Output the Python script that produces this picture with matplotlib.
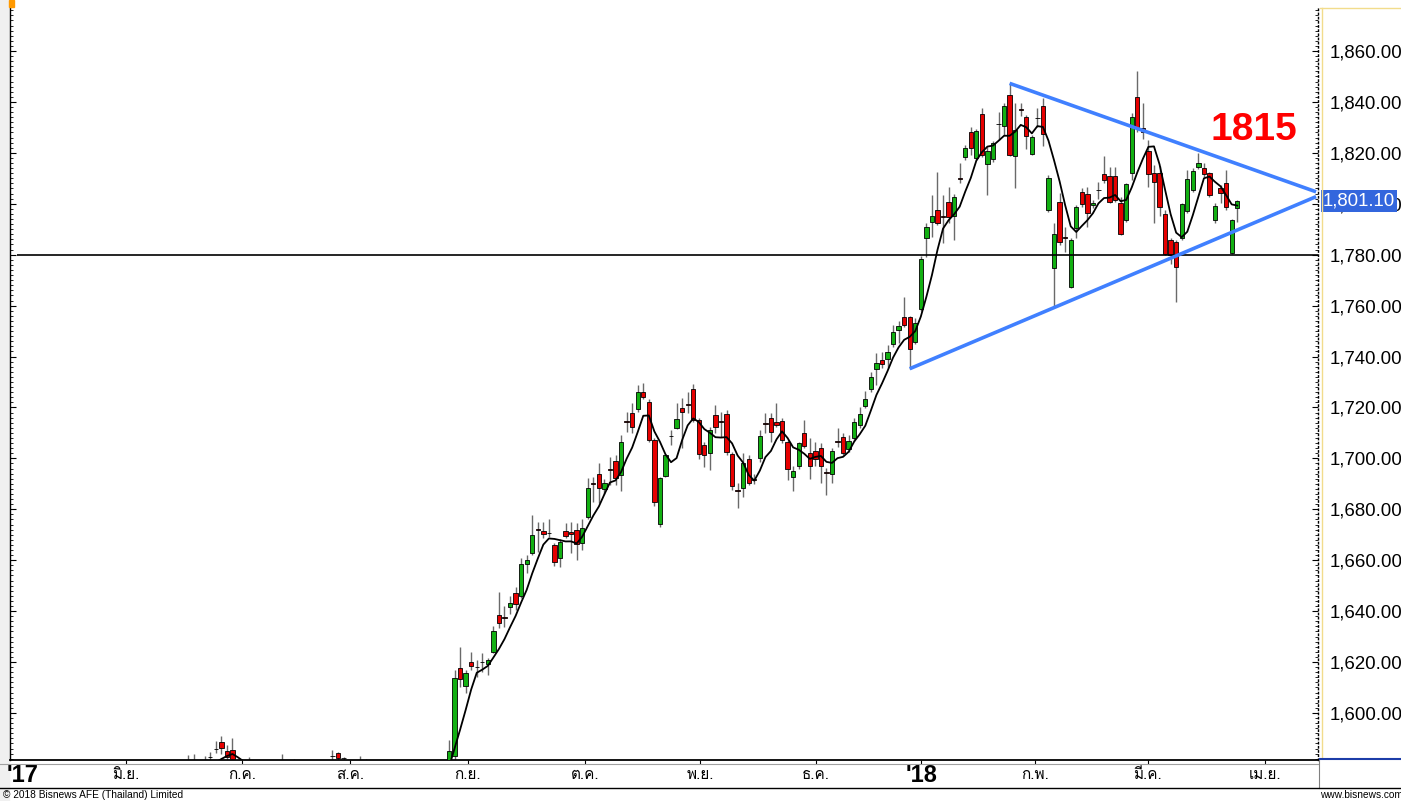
import matplotlib
matplotlib.use("Agg")
import matplotlib.pyplot as plt
import matplotlib.transforms as mtransforms
import numpy as np
import pandas as pd
from matplotlib import font_manager
from matplotlib.ft2font import FT2Font
from matplotlib.lines import Line2D
from matplotlib.ticker import MultipleLocator, FuncFormatter

# daily candles, trading-day index starting at FIRST_INDEX (0 = first candle of the Sep rally)
FIRST_INDEX = -48

OPEN = [
    1575, 1576, 1577, 1579, 1577, 1582.5, 1585.9, 1588.7, 1585.2, 1585.5,
    1580, 1576, 1578, 1577, 1575, 1572, 1574, 1576, 1577, 1579,
    1575, 1578, 1573, 1575, 1577, 1576, 1578, 1583.1, 1584.2, 1582.3,
    1580, 1577, 1574, 1578, 1576, 1573, 1575, 1572, 1570, 1572,
    1575, 1573, 1576, 1578, 1575, 1577, 1576, 1577,
    1578, 1583, 1617.5, 1610.6, 1620, 1618.2, 1620, 1619.2, 1624, 1638.5,
    1637.6, 1641.5, 1647, 1646.1, 1658.5, 1663, 1672.2, 1671.5, 1670.7, 1665.8,
    1660.8, 1671.5, 1671, 1671.9, 1666.6, 1677.1, 1690.3, 1693.7, 1688.1, 1695.8,
    1699, 1693.5, 1714.5, 1718, 1719.3, 1726, 1722.3, 1707.2, 1674.2, 1693,
    1708.9, 1712.1, 1719.9, 1721.3, 1727.2, 1715, 1705.2, 1702.2, 1717, 1714.5,
    1717.3, 1701.7, 1687.4, 1688.2, 1699.6, 1692, 1700, 1713.8, 1716, 1714.4,
    1714.8, 1706.6, 1692.8, 1696.8, 1709.9, 1702, 1702.9, 1704, 1694.5, 1693.7,
    1706.7, 1708.5, 1703.6, 1707.9, 1713.1, 1720.6, 1727.1, 1735, 1738.6, 1738.9,
    1745, 1750.4, 1755.6, 1755.4, 1745.8, 1758.6, 1786.4, 1792.7, 1797.5, 1795.1,
    1800.8, 1795, 1810.1, 1818.5, 1828.3, 1818, 1835.3, 1815.6, 1817.5, 1831.4,
    1830.5, 1842.7, 1818.8, 1837.2, 1834.2, 1819.5, 1833.7, 1838.5, 1797.5, 1774.7,
    1800.8, 1786.9, 1767.4, 1790.4, 1804.7, 1803.7, 1799.5, 1805.5, 1811.7, 1811,
    1811, 1800.2, 1793.6, 1812, 1841.8, 1829.6, 1820.9, 1812, 1812, 1796,
    1785.8, 1785.1, 1786.4, 1797.3, 1805.4, 1814.6, 1813.9, 1812.2, 1793.6, 1806.3,
    1808.3, 1780.8, 1798.2,
]
HIGH = [
    1579, 1583.5, 1583.8, 1581, 1583, 1584.8, 1589, 1591, 1587.4, 1590,
    1581, 1580, 1582.6, 1580, 1578, 1576, 1578, 1580, 1583.9, 1581,
    1582, 1580, 1577, 1579, 1580, 1579, 1581, 1585.5, 1584.8, 1582.6,
    1581, 1580, 1583.2, 1582, 1579, 1577, 1578, 1576, 1574, 1577,
    1578, 1577, 1580, 1580, 1579, 1580, 1580, 1580.5,
    1589.4, 1617, 1626, 1617, 1624, 1620.8, 1623.4, 1621.7, 1634.2, 1647.3,
    1642, 1645.9, 1649.4, 1661, 1662, 1677.8, 1674.8, 1674.8, 1676, 1666.6,
    1668.2, 1674.5, 1674.8, 1674.5, 1676, 1692.2, 1692.6, 1698, 1692, 1700.7,
    1701.3, 1709.2, 1718.3, 1721.6, 1728.8, 1729.5, 1723.2, 1707.9, 1692.8, 1701.8,
    1711, 1721.6, 1723.6, 1726.2, 1729.2, 1715.7, 1706.6, 1712.4, 1720.8, 1718.3,
    1719, 1702.3, 1690.2, 1702, 1701.3, 1694, 1711, 1718, 1718, 1721.9,
    1716, 1707.2, 1696.8, 1706.6, 1715, 1707.9, 1706.6, 1706.2, 1696.1, 1704,
    1711.8, 1710, 1709, 1716, 1720.3, 1726.5, 1734, 1741.3, 1741.6, 1744.6,
    1752.4, 1754, 1763.3, 1756, 1755.2, 1779.5, 1792.3, 1803.4, 1812.6, 1803.4,
    1806.5, 1804, 1816.1, 1823.1, 1830.3, 1829.5, 1837.5, 1822.2, 1824.5, 1836.2,
    1839.5, 1847.3, 1839.7, 1839.5, 1834.9, 1827, 1837.5, 1841.4, 1811.3, 1792.3,
    1804.3, 1791, 1786.4, 1799.5, 1806.3, 1806.7, 1801.5, 1808.7, 1818.8, 1814.6,
    1814.3, 1802.8, 1808.3, 1835.5, 1852.1, 1839.7, 1825, 1815.2, 1814.8, 1797.5,
    1786.4, 1785.8, 1800.4, 1813.3, 1813.9, 1819.8, 1816.1, 1812.6, 1800.2, 1807.4,
    1813.3, 1793.9, 1801.5,
]
LOW = [
    1571, 1574, 1575, 1575, 1574, 1579, 1584.2, 1584, 1580, 1579,
    1574, 1572, 1575, 1573, 1570, 1568, 1571, 1573, 1575, 1574,
    1572, 1572, 1569, 1572, 1573, 1572, 1575, 1580, 1579, 1578,
    1575, 1573, 1572, 1574, 1571, 1569, 1571, 1567, 1566, 1569,
    1571, 1570, 1573, 1574, 1572, 1573, 1574, 1574,
    1575, 1580, 1610.3, 1607.7, 1617, 1614.3, 1616.2, 1614.9, 1623.4, 1633.3,
    1633.9, 1638.9, 1640.4, 1645, 1654.8, 1662, 1663.4, 1668.6, 1669, 1657.7,
    1657.5, 1668.6, 1663, 1660, 1664, 1676, 1683, 1682.4, 1686, 1689.6,
    1689.6, 1687, 1710.5, 1709.9, 1718.3, 1723.2, 1706.6, 1681.1, 1673.2, 1692.5,
    1705.3, 1711.4, 1704, 1717.7, 1714.4, 1699.8, 1696.5, 1695.4, 1709.9, 1708.5,
    1701.5, 1687.5, 1680.4, 1684.7, 1689.5, 1690, 1698.7, 1710, 1706.6, 1712.4,
    1706, 1691.5, 1687.3, 1695.8, 1704, 1691.8, 1697, 1690.2, 1685.6, 1690.5,
    1704.3, 1701.5, 1702.5, 1707, 1712, 1719.8, 1726, 1728.8, 1735.5, 1735.3,
    1743.9, 1745.2, 1751.7, 1735.2, 1745, 1758, 1779.2, 1787, 1791.7, 1784.7,
    1792.3, 1785.8, 1808.3, 1817.2, 1819.2, 1817.2, 1818.5, 1803.4, 1816.6, 1825,
    1827, 1818.8, 1806, 1834.5, 1821.4, 1819, 1830.3, 1822.7, 1796.9, 1759.6,
    1783.8, 1781.2, 1766.8, 1786.4, 1798.9, 1791, 1798.2, 1801.8, 1808.3, 1800.2,
    1800.8, 1787.7, 1793, 1809.3, 1828.3, 1825.3, 1806.7, 1792.3, 1795, 1780,
    1776.3, 1761.5, 1785.8, 1796.3, 1804.7, 1813.5, 1810.4, 1802.8, 1792.6, 1800.2,
    1797.5, 1780.3, 1793,
]
CLOSE = [
    1576, 1577, 1579, 1577, 1578, 1582.7, 1585.7, 1586.1, 1582.8, 1582,
    1576, 1578, 1577, 1575, 1572, 1574, 1576, 1577, 1579, 1575,
    1578, 1573, 1575, 1577, 1576, 1578, 1580, 1582.9, 1582.2, 1582.1,
    1577, 1574, 1578, 1576, 1573, 1575, 1572, 1570, 1572, 1575,
    1573, 1576, 1578, 1575, 1577, 1576, 1577, 1578,
    1585.2, 1613.6, 1613.2, 1615.6, 1618.4, 1618, 1619.8, 1620.6, 1632, 1635.2,
    1637.4, 1643, 1642.8, 1658.5, 1660, 1669.8, 1672, 1670.3, 1670.5, 1659.1,
    1667.3, 1669.6, 1670.4, 1666.4, 1672.5, 1688.2, 1690.1, 1688.2, 1690.5, 1695.6,
    1692.2, 1706.6, 1714.3, 1712.5, 1726, 1724.2, 1707.2, 1683, 1692.2, 1701.3,
    1708.7, 1715.3, 1718.3, 1721.1, 1715, 1701.7, 1701.3, 1711.1, 1712.4, 1714.3,
    1702.6, 1689, 1687.2, 1698.3, 1690.2, 1691.4, 1708.8, 1713.6, 1710.5, 1712.9,
    1707.2, 1695.7, 1695.2, 1705.9, 1705, 1697.1, 1699.6, 1697.1, 1694.3, 1702.9,
    1706.5, 1702.2, 1707, 1714.4, 1717.3, 1723.2, 1731.9, 1737.6, 1736.9, 1741.7,
    1749.8, 1752, 1752.4, 1742.8, 1753, 1778.2, 1790.8, 1795, 1792.3, 1794.9,
    1794.7, 1802.5, 1809.9, 1821.8, 1821.8, 1828.6, 1819.2, 1820.9, 1823.8, 1831.2,
    1838.5, 1819.2, 1829, 1837, 1826.6, 1826.4, 1833.5, 1827.4, 1810, 1788.1,
    1785.1, 1786.7, 1785.8, 1798.9, 1799.9, 1796.3, 1800.4, 1805.3, 1809.3, 1800.8,
    1801.5, 1788.1, 1807.8, 1834, 1830.3, 1828, 1811.7, 1808.7, 1798.9, 1780.3,
    1780, 1775.3, 1799.9, 1809.6, 1812.9, 1815.9, 1811.7, 1803.4, 1799.1, 1804.1,
    1798.6, 1793.6, 1801.1,
]

MA_DAYS = 5

MONTH_LABELS = ["'17", "มิ.ย.", "ก.ค.", "ส.ค.", "ก.ย.", "ต.ค.", "พ.ย.",
                "ธ.ค.", "'18", "ก.พ.", "มี.ค.", "เม.ย."]
MONTH_POS = [-76.8, -58.2, -37.3, -17.8, 3.4, 24.5, 45.2, 66.1, 85.1, 105.5, 125.9, 147.0]

SUPPORT_LEVEL = 1780
SUPPORT_START = -77.8
UPPER_TREND = ([101, 156.2], [1847.3, 1804.7])
LOWER_TREND = ([83, 156.2], [1735.2, 1802.8])
TARGET = "1815"
TARGET_POS = (145.0, 1825.0)

XLIM = (-79.08, 156.55)
YLIM = (1581.5, 1876.9)

W, H = 1401, 801
GREEN = "#12b012"
RED = "#e60000"
BLUE = "#4080ff"


def thai_family():
    for f in font_manager.fontManager.ttflist:
        try:
            if 0x0E01 in FT2Font(f.fname).get_charmap():
                return f.name
        except Exception:
            continue
    return "DejaVu Sans"


plt.rcParams["font.family"] = ["Liberation Sans", "DejaVu Sans"]
THAI = thai_family()
NARROW = ["Liberation Sans Narrow", "Liberation Sans", "DejaVu Sans"]

fig = plt.figure(figsize=(W / 100, H / 100), dpi=100)
fig.patch.set_facecolor("white")


def fx(px):
    return px / W


def fy(py):
    return 1 - py / H


def fig_line(x0, y0, x1, y1, **kw):
    fig.add_artist(Line2D([fx(x0), fx(x1)], [fy(y0), fy(y1)], transform=fig.transFigure, **kw))


# grey strip at far left and orange marker
fig.add_artist(plt.Rectangle((0, fy(801)), fx(9), 1, transform=fig.transFigure,
                             color="#f0f0f0", zorder=0))
fig.add_artist(plt.Rectangle((fx(9), fy(7)), fx(5), 7 / H, transform=fig.transFigure,
                             color="#ff9900", zorder=1))

ax = fig.add_axes([fx(10), fy(760), fx(1318) - fx(10), fy(8) - fy(760)])
ax.set_xlim(*XLIM)
ax.set_ylim(*YLIM)

df = pd.DataFrame({"open": OPEN, "high": HIGH, "low": LOW, "close": CLOSE})
df["x"] = np.arange(len(df)) + FIRST_INDEX
df["ma"] = df["close"].rolling(MA_DAYS).mean()

body_low = df[["open", "close"]].min(axis=1)
body_h = (df["close"] - df["open"]).abs().clip(lower=0.2)
colors = np.where(df["close"] >= df["open"], GREEN, RED)

ax.vlines(df["x"], df["low"], df["high"], color="#6a6a6a", lw=1.0, zorder=2)
ax.bar(df["x"], body_h, width=0.78, bottom=body_low, color=colors,
       edgecolor="black", linewidth=0.6, zorder=3)
ax.plot(df["x"], df["ma"], color="black", lw=1.3, zorder=4)

ax.hlines(SUPPORT_LEVEL, SUPPORT_START, XLIM[1], color="black", lw=1.2, zorder=4)
ax.plot(*UPPER_TREND, color=BLUE, lw=2.6, zorder=5, solid_capstyle="butt")
ax.plot(*LOWER_TREND, color=BLUE, lw=2.6, zorder=5, solid_capstyle="butt")

ax.text(*TARGET_POS, TARGET, color="#ff0000", fontsize=28, fontweight="bold",
        family=NARROW, ha="center", va="baseline", zorder=6)

# y axis on the right
ax.yaxis.set_major_locator(MultipleLocator(20))
ax.yaxis.set_minor_locator(MultipleLocator(2))
ax.yaxis.set_major_formatter(FuncFormatter(lambda v, p: f"{v:,.2f}"))
ax.tick_params(axis="y", which="both", direction="in", left=True, right=True,
               labelleft=False, labelright=True, colors="black")
ax.tick_params(axis="y", which="major", length=4, width=0.8, pad=8.6, labelsize=13.4)
ax.tick_params(axis="y", which="minor", length=2, width=0.6)

ax.set_xticks(MONTH_POS[1:])
ax.set_xticklabels([])
ax.tick_params(axis="x", which="both", direction="out", length=3, width=0.8, labelbottom=False)

ax.spines["top"].set_visible(False)
ax.spines["right"].set_linestyle((0, (1, 2)))
ax.spines["right"].set_linewidth(1.0)
ax.spines["left"].set_linewidth(1.0)
ax.spines["bottom"].set_linewidth(1.3)

# last price tag (sits over the 1,800.00 label, as in the terminal)
last = df["close"].iloc[-1]
tag_tr = mtransforms.blended_transform_factory(ax.transAxes, ax.transData)
ax.text((1323 - 10) / 1308, last, f"{last:,.2f}", transform=tag_tr, color="white",
        fontsize=13.4, ha="left", va="center", clip_on=False, zorder=10,
        bbox=dict(boxstyle="square,pad=0.12", fc="#3366dd", ec="none"))

# month labels under the axis
lab_tr = mtransforms.blended_transform_factory(ax.transData, fig.transFigure)
for pos, lab in zip(MONTH_POS, MONTH_LABELS):
    if lab.startswith("'"):
        ax.text(pos, fy(775), lab, transform=lab_tr, ha="center", va="center",
                fontsize=17, fontweight="bold", family=NARROW, clip_on=False)
    else:
        ax.text(pos, fy(775), lab, transform=lab_tr, ha="center", va="center",
                fontsize=11, family=[THAI, "DejaVu Sans"], clip_on=False)

# frame bits around the panels
fig_line(1321.5, 7.5, 1321.5, 758, color="#f2dc8c", lw=1.0)
fig_line(1320, 7.5, 1401, 7.5, color="#f2dc8c", lw=1.0)
fig_line(1320, 758.5, 1401, 758.5, color="#1c3ca8", lw=1.5)
fig_line(0, 763.5, 1318, 763.5, color="#a0a0a0", lw=0.8)
fig_line(1318.5, 760, 1318.5, 788, color="#808080", lw=0.8)
fig_line(0, 788, 1401, 788, color="black", lw=1.0)

fig.text(fx(3), fy(795.5), "© 2018 Bisnews AFE (Thailand) Limited", fontsize=7.3,
         family=NARROW, ha="left", va="center")
fig.text(fx(1403), fy(795.5), "www.bisnews.com", fontsize=7.3,
         family=NARROW, ha="right", va="center")

fig.savefig("out.png", dpi=100)
